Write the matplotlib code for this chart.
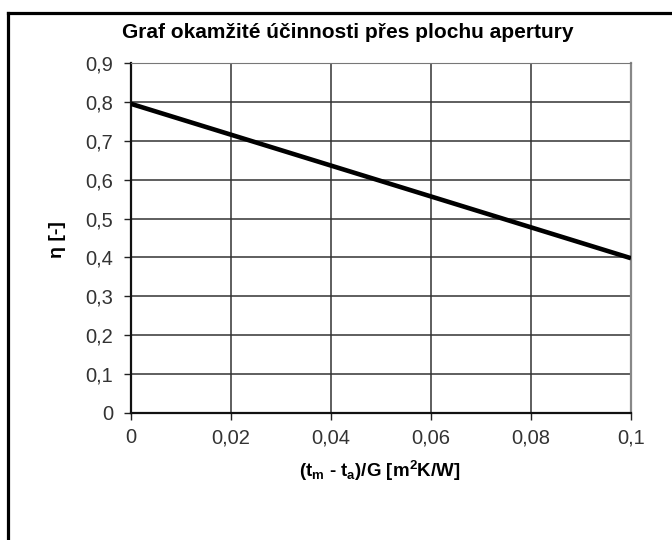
import numpy as np
import matplotlib
matplotlib.use('Agg')
import matplotlib.pyplot as plt
from matplotlib.lines import Line2D

plt.rcParams['font.family'] = ['Liberation Sans', 'DejaVu Sans']
plt.rcParams['mathtext.fontset'] = 'custom'
plt.rcParams['mathtext.rm'] = 'Liberation Sans:bold'
plt.rcParams['mathtext.default'] = 'rm'

# data
x_vals = [0.0, 0.1]
eta_vals = [0.795, 0.398]
x_ticks = [0, 0.02, 0.04, 0.06, 0.08, 0.1]
x_labels = ['0', '0,02', '0,04', '0,06', '0,08', '0,1']
y_ticks = [0, 0.1, 0.2, 0.3, 0.4, 0.5, 0.6, 0.7, 0.8, 0.9]
y_labels = ['0', '0,1', '0,2', '0,3', '0,4', '0,5', '0,6', '0,7', '0,8', '0,9']

W, H = 672, 540
fig = plt.figure(figsize=(W / 100, H / 100), dpi=100)

# outer frame (top + left edges only)
fig.add_artist(Line2D([8 / W, 8 / W], [0, 1 - 13 / H], color='black', lw=2.3,
                      transform=fig.transFigure, solid_capstyle='projecting'))
fig.add_artist(Line2D([8 / W, 1], [1 - 13 / H, 1 - 13 / H], color='black', lw=2.3,
                      transform=fig.transFigure, solid_capstyle='projecting'))

ax = fig.add_axes([131 / W, 1 - 413 / H, (631 - 131) / W, (413 - 63) / H])
ax.plot(x_vals, eta_vals, color='black', lw=3.3, solid_capstyle='butt', zorder=3)

ax.set_xlim(0, 0.1)
ax.set_ylim(0, 0.9)
ax.set_xticks(x_ticks)
ax.set_xticklabels(x_labels)
ax.set_yticks(y_ticks)
ax.set_yticklabels(y_labels)
ax.tick_params(direction='out', length=5, width=1, colors='#222222',
               labelsize=14.5, labelcolor='#333333')
ax.tick_params(axis='x', pad=6)
ax.tick_params(axis='y', pad=8)
ax.grid(True, color='#333333', lw=1.1)
ax.set_axisbelow(True)

ax.spines['left'].set_color('#111111')
ax.spines['left'].set_linewidth(1.6)
ax.spines['bottom'].set_color('#111111')
ax.spines['bottom'].set_linewidth(1.6)
ax.spines['top'].set_color('#777777')
ax.spines['right'].set_color('#888888')
ax.spines['right'].set_linewidth(1.6)

fig.text(348 / W, 1 - 32 / H, 'Graf okamžité účinnosti přes plochu apertury',
         ha='center', va='center', fontsize=15, fontweight='bold')
fig.text(57 / W, 1 - 240 / H, 'η [-]', rotation=90, ha='center', va='center',
         fontsize=14, fontweight='bold')
fig.text(380 / W, 1 - 471 / H, r'(t$_{m}$ - t$_{a}$)/G [m$^{2}$K/W]',
         ha='center', va='center', fontsize=13.5, fontweight='bold')

fig.savefig('out.png', dpi=100)
